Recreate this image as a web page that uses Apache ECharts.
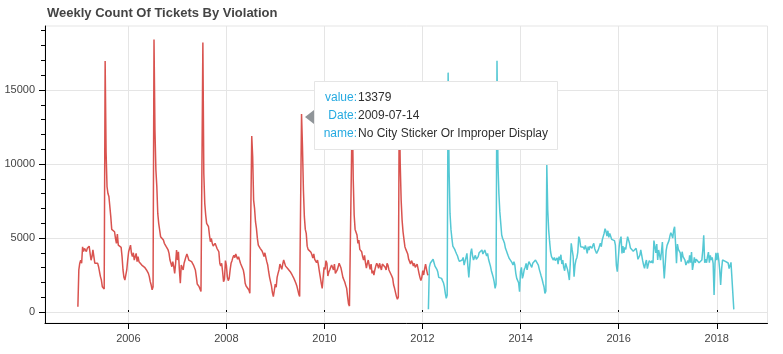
<!DOCTYPE html>
<html>
<head>
<meta charset="utf-8">
<script src="https://cdn.jsdelivr.net/npm/echarts@6/dist/echarts.min.js"></script>
<style>
  html, body { margin: 0; padding: 0; background: #fff; }
  #chart { width: 783px; height: 354px; }
</style>
</head>
<body>
<div id="chart"></div>
<script>
// weekly counts, one value per week starting from firstWeek
const firstWeek = '2004-12-21';
const stickerName = 'No City Sticker Or Improper Display';
const vehicleName = 'No City Sticker Vehicle Under/Equal To 16,000 Lbs.';

const stickerStartWeek = 0;
const stickerCounts = [
  350, 2840, 3300, 3500, 3300, 4400, 4080, 4300, 4190, 4080,
  4300, 4400, 4450, 3960, 3500, 3740, 4190, 4300, 3300, 3400,
  3170, 3300, 3060, 2720, 2390, 2160, 1710, 1600, 1550, 16950,
  10800, 8470, 8000, 7800, 7680, 6440, 5580, 5540, 5540, 5420,
  4970, 4640, 5270, 4520, 4640, 4450, 4370, 3740, 2840, 2340,
  2160, 2270, 2840, 3510, 4070, 3960, 4520, 3960, 3740, 4000,
  3510, 3620, 3960, 3400, 3740, 3400, 3290, 3510, 3170, 3170,
  3100, 3020, 2950, 2840, 2790, 2610, 2390, 2050, 1820, 1500,
  1700, 18400, 12300, 9600, 8470, 6660, 5990, 5540, 5090, 5040,
  4970, 4860, 4640, 4750, 4410, 4520, 4190, 3960, 3510, 3290,
  3060, 3400, 3060, 2610, 3290, 4190, 3510, 4070, 2840, 1940,
  3170, 3290, 2840, 3290, 3510, 3740, 3920, 3740, 3510, 3510,
  3470, 3400, 3290, 3170, 3060, 2840, 2390, 1890, 1820, 1710,
  1600, 1380, 1260, 18200, 9370, 7340, 6550, 5990, 6030, 5760,
  5200, 4750, 4970, 4640, 4450, 4410, 4640, 4520, 4300, 4190,
  4070, 3290, 3100, 3290, 2720, 2050, 2210, 3470, 3170, 2390,
  2120, 2270, 2840, 3290, 3470, 3690, 3830, 3670, 3920, 3740,
  3560, 3740, 3510, 3290, 3330, 3170, 2840, 2500, 1940, 1760,
  1820, 1710, 1490, 1260, 1130, 11890, 10490, 7560, 7000, 6100,
  5650, 4970, 4520, 4410, 4300, 4190, 4120, 3960, 3740, 4000,
  3690, 3400, 3170, 2720, 2340, 2210, 1760, 1310, 1040, 1440,
  1890, 1670, 2340, 2610, 2840, 3240, 3200, 2880, 3240, 3510,
  3380, 3100, 3020, 2950, 2880, 2840, 2720, 2600, 2500, 2400,
  2250, 2100, 1940, 1760, 1490, 1220, 1040, 1150, 13379, 11170,
  8240, 6440, 5580, 5310, 4450, 4230, 4190, 4100, 4030, 3870,
  3650, 3920, 3560, 3690, 3330, 3510, 3170, 2720, 2340, 1940,
  1600, 2340, 3020, 2880, 3470, 3290, 2430, 2700, 2840, 3020,
  3170, 3240, 2840, 3240, 2610, 2520, 2840, 3060, 3290, 3170,
  2970, 2660, 2340, 2270, 2030, 1800, 1600, 1040, 540, 400,
  380, 450, 14000, 9000, 6550, 5580, 5540, 5200, 4640, 4860,
  4230, 4140, 4070, 3740, 3510, 3830, 3330, 2970, 3290, 3510,
  3170, 2880, 3240, 2610, 2790, 2500, 2840, 3100, 3290, 3150,
  2950, 3290, 3060, 2840, 3240, 3170, 3290, 3020, 2840, 3290,
  3150, 2840, 2720, 2570, 2430, 2270, 1820, 1600, 1490, 1040,
  860, 1000, 14500, 10040, 7560, 6210, 5420, 4910, 4410, 4230,
  4140, 3920, 3560, 3690, 3240, 3470, 3330, 3100, 3290, 3020,
  3150, 3240, 2930, 2610, 2340, 2120, 2340, 2790, 2500, 2930,
  3240, 2880, 2570, 2480
];

const vehicleStartWeek = 373;
const vehicleCounts = [
  180, 3020, 3290, 3170, 3400, 3560, 3330,
  3100, 2970, 2880, 2700, 2340, 2210, 2340, 2270, 2120, 1980,
  1710, 1260, 920, 1150, 16170, 9590, 6660, 5580, 4970, 4450,
  4320, 4230, 4070, 3920, 3780, 3560, 3420, 3330, 3400, 3510,
  3690, 3170, 3290, 3690, 3960, 3100, 2340, 3170, 4000, 4280,
  3780, 3510, 3690, 3830, 3560, 3600, 3740, 4000, 4050, 3960,
  4190, 3920, 4000, 4190, 4100, 3780, 3960, 3560, 3330, 3100,
  2790, 2570, 2340, 2030, 1600, 1890, 16970, 10040, 8020, 6780,
  5990, 5200, 4970, 4820, 4640, 4300, 4140, 3960, 3780, 3620,
  3510, 3510, 3330, 3170, 3400, 3170, 2610, 2270, 2390, 1980,
  1370, 2720, 3020, 2270, 2500, 2880, 3020, 3290, 2840, 3170,
  3400, 3290, 3510, 3020, 3290, 3420, 3290, 3510, 3560, 3380,
  3170, 2880, 2660, 2430, 2210, 1940, 1710, 1260, 1400, 9930,
  6890, 5540, 4750, 4070, 3740, 3620, 3510, 3690, 3470, 3400,
  3650, 3240, 3740, 3510, 3870, 3240, 3510, 3020, 2790, 3290,
  3170, 2880, 2570, 2160, 3290, 4640, 4190, 3780, 2390, 3170,
  3510, 3670, 4050, 5090, 4910, 4410, 4300, 4520, 4370, 4230,
  4500, 4280, 3960, 4410, 4190, 4450, 4410, 4300, 4500, 4640,
  4280, 4100, 3960, 4000, 4230, 4450, 4640, 4410, 4860, 5090,
  5310, 5630, 5450, 5130, 5490, 5040, 5310, 5380, 4910, 4820,
  5040, 4820, 4520, 3170, 2720, 3510, 4410, 4860, 5090, 3960,
  4450, 4000, 4370, 4230, 4680, 5090, 5200, 4640, 4320, 4190,
  4280, 4100, 4190, 4000, 4300, 4000, 3560, 3560, 3830, 4190,
  4140, 3470, 3170, 2950, 3290, 3510, 2930, 2950, 3470, 3420,
  3330, 3470, 3290, 4820, 4410, 4000, 4590, 3510, 4190, 4070,
  3510, 4070, 4730, 3290, 2270, 2340, 4140, 4500, 4610, 4820,
  5130, 5360, 5200, 4990, 5540, 5760, 4640, 3290, 4590, 4230,
  4300, 4000, 3400, 4070, 3740, 3850, 3510, 3170, 3240, 3470,
  3290, 3830, 3330, 4050, 2840, 3240, 3690, 3330, 3560, 3510,
  3670, 3330, 3420, 3330, 3510, 4190, 5180, 3330, 3560, 3330,
  3740, 4050, 3330, 3830, 3510, 3690, 3290, 1150, 3290, 4000,
  3510, 4000, 3510, 2840, 1820, 2880, 3510, 3600, 3510, 3420,
  3540, 3420, 3310, 2930, 3020, 3350, 3470, 3350, 180
];

const xTickYears = [2006, 2008, 2010, 2012, 2014, 2016, 2018];
const yTicks = [0, 5000, 10000, 15000];
const yMinorTicks = [0, 1000, 2000, 3000, 4000, 5000, 6000, 7000, 8000, 9000, 10000,
  11000, 12000, 13000, 14000, 15000, 16000, 17000, 18000, 19000];

// the hovered point shown in the tooltip
const hoverWeek = '2009-07-14';
const hoverValue = 13379;

const DAY = 86400000;
const startMs = Date.parse(firstWeek + 'T00:00:00Z');

function toSeries(counts, startWeek) {
  return counts.map((v, k) => [startMs + (startWeek + k) * 7 * DAY, v]);
}

const xMin = Date.parse('2004-04-20T00:00:00Z');
const xMax = Date.parse('2019-01-14T00:00:00Z');
const yMin = -743;
const yMax = 19320;
const xTickValues = xTickYears.map(y => Date.UTC(y, 0, 1));

const FONT = 'Liberation Sans, Arial, sans-serif';

const chart = echarts.init(document.getElementById('chart'), null, { renderer: 'canvas' });

// timestamps on a plain value axis so the year ticks can be placed exactly
const option = {
  animation: false,
  title: {
    text: 'Weekly Count Of Tickets By Violation',
    left: 47,
    top: 7,
    padding: 0,
    textStyle: { fontFamily: FONT, fontSize: 13, fontWeight: 'bold', color: '#444' }
  },
  grid: {
    left: 45, top: 26, right: 15.5, bottom: 31,
    show: true, borderColor: '#e5e5e5', borderWidth: 1, backgroundColor: 'transparent'
  },
  xAxis: [{
    type: 'value',
    min: xMin, max: xMax,
    axisLine: { show: true, onZero: false, lineStyle: { color: '#000', width: 1 } },
    axisTick: { show: true, length: 6, customValues: xTickValues, lineStyle: { color: '#000' } },
    axisLabel: {
      customValues: xTickValues,
      formatter: v => String(new Date(v).getUTCFullYear()),
      fontFamily: FONT, fontSize: 11, color: '#444', margin: 10
    },
    splitLine: { show: true, lineStyle: { color: '#e5e5e5', width: 1 } }
  }, {
    type: 'value',
    min: xMin, max: xMax,
    position: 'bottom',
    axisLine: { show: false },
    axisTick: { show: true, inside: true, length: 2, customValues: xTickValues, lineStyle: { color: '#000' } },
    axisLabel: { show: false },
    splitLine: { show: false }
  }],
  yAxis: [{
    type: 'value',
    min: yMin, max: yMax,
    axisLine: { show: true, onZero: false, lineStyle: { color: '#000', width: 1 } },
    axisTick: { show: true, length: 6, customValues: yTicks, lineStyle: { color: '#000' } },
    axisLabel: {
      customValues: yTicks,
      formatter: v => String(v),
      fontFamily: FONT, fontSize: 11, color: '#444', margin: 10
    },
    splitLine: { show: true, lineStyle: { color: '#e5e5e5', width: 1 } }
  }, {
    type: 'value',
    min: yMin, max: yMax,
    position: 'left',
    axisLine: { show: false },
    axisTick: { show: true, length: 4, customValues: yMinorTicks, lineStyle: { color: '#000' } },
    axisLabel: { show: false },
    splitLine: { show: false }
  }],
  series: [{
    name: stickerName,
    type: 'line',
    showSymbol: false,
    data: toSeries(stickerCounts, stickerStartWeek),
    lineStyle: { color: '#d9534f', width: 1.5 },
    itemStyle: { color: '#d9534f' }
  }, {
    name: vehicleName,
    type: 'line',
    showSymbol: false,
    data: toSeries(vehicleCounts, vehicleStartWeek),
    lineStyle: { color: '#55c8d4', width: 1.5 },
    itemStyle: { color: '#55c8d4' }
  }]
};

chart.setOption(option);

// hover tooltip pinned to the 2009-07-14 point
const hoverMs = Date.parse(hoverWeek + 'T00:00:00Z');
const pt = chart.convertToPixel({ seriesIndex: 0 }, [hoverMs, hoverValue]);

const tipFields = ['value', 'Date', 'name'];
const tipValues = [String(hoverValue), hoverWeek, stickerName];
const rowY = [-16, 2, 20];

const tipChildren = [
  {
    type: 'polygon',
    z: 100,
    shape: { points: [[3, 3], [12, -4], [12, 10]] },
    style: { fill: '#909599' }
  },
  {
    type: 'rect',
    z: 100,
    shape: { x: 12.5, y: -32.5, width: 243, height: 68 },
    style: { fill: '#fff', stroke: '#e5e5e5', lineWidth: 1 }
  }
];
tipFields.forEach((f, k) => {
  tipChildren.push({
    type: 'text',
    z: 101,
    x: 55, y: rowY[k],
    style: {
      text: f + ':', fill: '#26aae1', font: '12px ' + FONT,
      align: 'right', verticalAlign: 'middle'
    }
  });
  tipChildren.push({
    type: 'text',
    z: 101,
    x: 56, y: rowY[k],
    style: {
      text: tipValues[k], fill: '#2f2f2f', font: '12px ' + FONT,
      align: 'left', verticalAlign: 'middle'
    }
  });
});

chart.setOption({
  graphic: [{
    type: 'group',
    zlevel: 1,
    x: Math.round(pt[0]), y: Math.round(pt[1]),
    children: tipChildren
  }]
});
</script>
</body>
</html>
